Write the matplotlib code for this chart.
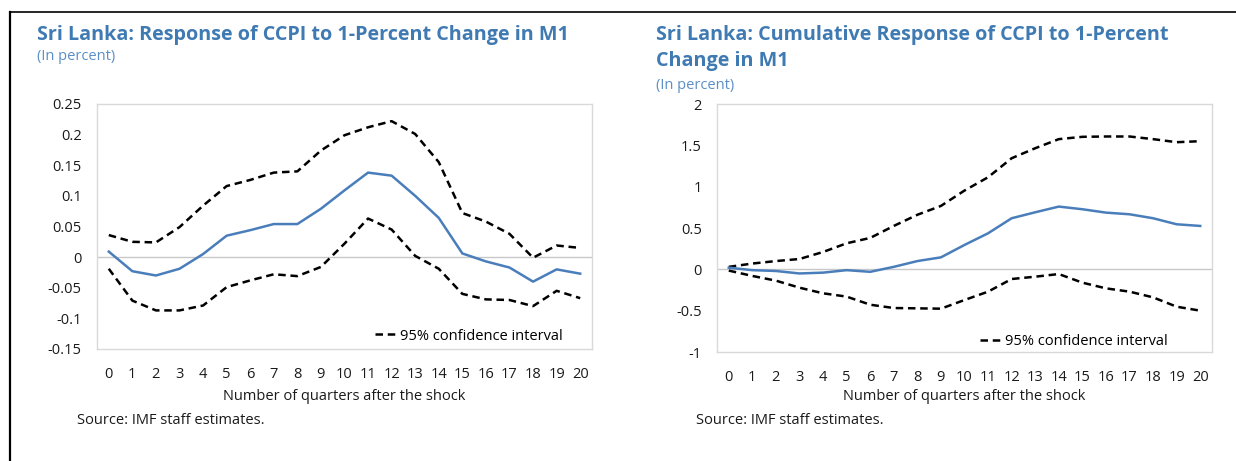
import matplotlib.pyplot as plt
from matplotlib.lines import Line2D

plt.rcParams['font.family'] = ['Open Sans', 'DejaVu Sans']

quarters = list(range(21))

# left panel: response of CCPI (percent)
resp = [0.009, -0.023, -0.030, -0.019, 0.005, 0.035, 0.044, 0.054, 0.054, 0.079, 0.109,
        0.138, 0.133, 0.100, 0.064, 0.006, -0.007, -0.017, -0.040, -0.020, -0.027]
resp_hi = [0.036, 0.025, 0.024, 0.049, 0.084, 0.116, 0.126, 0.138, 0.140, 0.174, 0.199,
           0.212, 0.222, 0.201, 0.155, 0.072, 0.058, 0.038, -0.001, 0.019, 0.015]
resp_lo = [-0.019, -0.071, -0.087, -0.087, -0.079, -0.049, -0.038, -0.028, -0.031, -0.016, 0.022,
           0.063, 0.045, 0.002, -0.019, -0.060, -0.069, -0.070, -0.080, -0.055, -0.067]

# right panel: cumulative response
cum = [0.02, -0.01, -0.02, -0.05, -0.04, -0.01, -0.03, 0.03, 0.10, 0.145, 0.295,
       0.436, 0.618, 0.69, 0.759, 0.727, 0.686, 0.666, 0.618, 0.545, 0.525]
cum_hi = [0.03, 0.07, 0.10, 0.125, 0.21, 0.315, 0.38, 0.525, 0.66, 0.767, 0.953,
          1.114, 1.344, 1.465, 1.575, 1.603, 1.607, 1.607, 1.575, 1.538, 1.55]
cum_lo = [-0.015, -0.08, -0.137, -0.222, -0.29, -0.33, -0.428, -0.468, -0.472, -0.476, -0.371,
          -0.27, -0.117, -0.089, -0.057, -0.161, -0.23, -0.27, -0.339, -0.452, -0.50]

left_yticks = [-0.15, -0.1, -0.05, 0, 0.05, 0.1, 0.15, 0.2, 0.25]
left_ylabels = ['-0.15', '-0.1', '-0.05', '0', '0.05', '0.1', '0.15', '0.2', '0.25']
right_yticks = [-1, -0.5, 0, 0.5, 1, 1.5, 2]
right_ylabels = ['-1', '-0.5', '0', '0.5', '1', '1.5', '2']

titles = ['Sri Lanka: Response of CCPI to 1-Percent Change in M1',
          'Sri Lanka: Cumulative Response of CCPI to 1-Percent\nChange in M1']
subtitle = '(In percent)'
xlab = 'Number of quarters after the shock'
source = 'Source: IMF staff estimates.'
ci_label = '95% confidence interval'

W, H = 1236, 461
fig = plt.figure(figsize=(W / 100, H / 100), dpi=100)

blue = '#4A7EBB'
title_col = '#3F7AB3'
grid_col = '#D9D9D9'


def fx(px):
    return px / W


def fy(py):
    return 1 - py / H


def panel(rect, mid, hi, lo, yticks, ylabels, leg_anchor):
    ax = fig.add_axes(rect)
    ax.axhline(0, color='#C8C8C8', lw=1, zorder=1)
    ax.plot(quarters, mid, color=blue, lw=1.8, zorder=3)
    ax.plot(quarters, hi, color='black', lw=1.8, dashes=(3.0, 1.9), label=ci_label, zorder=2)
    ax.plot(quarters, lo, color='black', lw=1.8, dashes=(3.0, 1.9), zorder=2)
    ax.set_xlim(-0.5, 20.5)
    ax.set_ylim(yticks[0], yticks[-1])
    ax.set_xticks(quarters)
    ax.set_xticklabels([str(q) for q in quarters])
    ax.set_yticks(yticks)
    ax.set_yticklabels(ylabels)
    ax.tick_params(length=0, labelsize=10.5, colors='#1a1a1a')
    ax.tick_params(axis='y', pad=11)
    ax.tick_params(axis='x', pad=13)
    for s in ax.spines.values():
        s.set_color(grid_col)
        s.set_linewidth(1)
    ax.legend(loc='center right', bbox_to_anchor=leg_anchor, frameon=False, fontsize=10.5,
              handlelength=1.5, handletextpad=0.2, borderpad=0, borderaxespad=0)
    return ax


panel([fx(97), fy(349), fx(495), (349 - 104) / H], resp, resp_hi, resp_lo,
      left_yticks, left_ylabels, (0.94, 0.053))
panel([fx(717), fy(352), fx(495), (352 - 104) / H], cum, cum_hi, cum_lo,
      right_yticks, right_ylabels, (0.911, 0.043))

# titles
fig.text(fx(37), fy(35), titles[0], color=title_col, fontsize=14.2, fontweight='bold', va='center')
fig.text(fx(37), fy(57), subtitle, color='#5B8FC7', fontsize=10.5, va='center')
fig.text(fx(656), fy(48), titles[1], color=title_col, fontsize=14.2, fontweight='bold',
         va='center', linespacing=1.35)
fig.text(fx(656), fy(85), subtitle, color='#5B8FC7', fontsize=10.5, va='center')

# x labels and sources
fig.text(fx(344.5), fy(396), xlab, fontsize=10.5, ha='center', va='center', color='#1a1a1a')
fig.text(fx(964), fy(396), xlab, fontsize=10.5, ha='center', va='center', color='#1a1a1a')
fig.text(fx(77), fy(420), source, fontsize=10.5, va='center', color='#1a1a1a')
fig.text(fx(696), fy(420), source, fontsize=10.5, va='center', color='#1a1a1a')

# page frame lines
fig.add_artist(Line2D([fx(10), 1], [fy(12), fy(12)], color='black', lw=1.2))
fig.add_artist(Line2D([fx(10), fx(10)], [fy(12), 0], color='black', lw=1.6))

fig.savefig('out.png', dpi=100)
